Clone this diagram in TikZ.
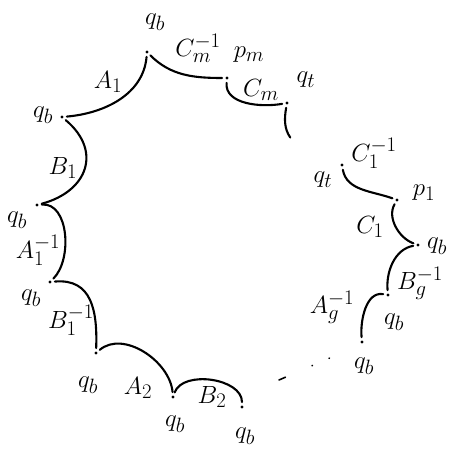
\documentclass[tikz,border=0pt]{standalone}
\usetikzlibrary{calc}

\begin{document}
\begin{tikzpicture}[
        x=1pt, y=1pt,
        dot/.style={
            circle,
            fill=black,
            inner sep=0pt,
            minimum size=3.4pt
        },
        etiqueta/.style={
            font=\Huge,
            text=black,
            inner sep=1pt
        },
        arco/.style={
            line width=2.1pt,
            line cap=round,
            shorten <=3pt,
            shorten >=3pt
        }
    ]
        \useasboundingbox (0,0) rectangle (450,452);

        % puntos de la cadena
        \foreach \nombre/\x/\y in {
            qb0/147/400, qb1/62/335, pm/227/374, qtm/287/349,
            qb2/37/247, qb3/50/170, qb4/96/99, qb5/173/55, qb6/242/45,
            qt1/342/287, p1/397/252, qbr1/418/207, qbr2/388/157, qbr3/362/110
        } {
            \node[dot] (\nombre) at (\x,\y) {};
        }
        \coordinate (stub) at (292,312);
        \coordinate (gapL) at (279,72);
        \coordinate (gapR) at (332,95);

        % etiquetas
        \foreach \texto/\x/\y [count=\n] in {
            $q_b$/155/430, $q_b$/43/337, $A_1$/108/370,
            $C_m^{-1}$/198/404, $p_m$/249/397, $C_m$/261/362, $q_t$/306/372,
            $B_1$/63/284, $q_b$/17/232, $A_1^{-1}$/38/202, $q_b$/31/154,
            $B_1^{-1}$/71/132, $q_b$/88/67, $A_2$/138/64, $q_b$/175/28,
            $B_2$/212/55, $q_b$/245/16,
            $q_t$/323/272, $C_1^{-1}$/374/299, $p_1$/424/259, $C_1$/370/225,
            $q_b$/437/206, $B_g^{-1}$/420/169, $q_b$/394/130,
            $A_g^{-1}$/332/145, $q_b$/364/86
        } {
            \node[etiqueta] (l\n) at (\x,\y) {\texto};
        }

        % arcos
        \draw[arco] (qb1) to[out=5, in=-95] (qb0);
        \draw[arco] (qb0) to[out=-45, in=180] (pm);
        \draw[arco] (pm) to[out=-95, in=190] (qtm);
        \draw[arco] (qtm) to[out=-100, in=125] (stub);
        \draw[arco] (qb1) to[out=-40, in=15, looseness=1.45] (qb2);
        \draw[arco] (qb2) to[out=5, in=45] (qb3);
        \draw[arco] (qb3) to[out=5, in=88, looseness=1.25] (qb4);
        \draw[arco] (qb4) to[out=40, in=95] (qb5);
        \draw[arco] (qb5) to[out=70, in=90] (qb6);
        \draw[arco] (qt1) to[out=-80, in=160] (p1);
        \draw[arco] (p1) to[out=-120, in=160] (qbr1);
        \draw[arco] (qbr1) to[out=190, in=95] (qbr2);
        \draw[arco] (qbr2) to[out=170, in=95] (qbr3);
        \draw[line width=1.6pt, line cap=round,
              dash pattern=on 7pt off 29pt on 0.5pt off 18pt on 0.5pt off 20pt]
            (gapL) -- (gapR);
    \end{tikzpicture}
\end{document}
